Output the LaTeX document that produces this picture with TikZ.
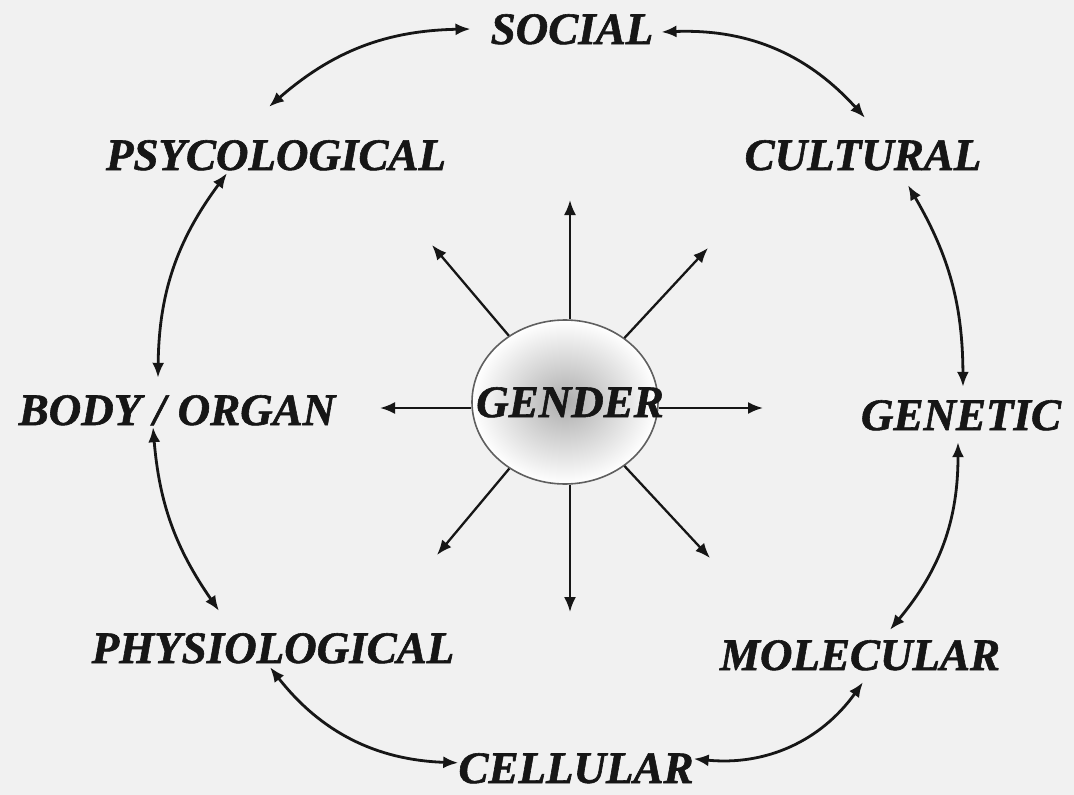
\documentclass[tikz,border=0pt]{standalone}
\usepackage{fontspec}
\setmainfont{Liberation Serif}[BoldItalicFeatures={FakeBold=1.3}]
\usetikzlibrary{arrows.meta,calc,shapes.geometric}
\definecolor{bgc}{RGB}{241,241,241}
\definecolor{ink}{RGB}{22,22,22}
\definecolor{rim}{RGB}{95,95,95}
\begin{document}
\begin{tikzpicture}[x=1pt,y=1pt,
  lbl/.style={font=\fontsize{45}{50}\selectfont\bfseries\itshape, inner sep=0pt,
              text height=30pt, text depth=0pt, anchor=base, text=ink},
  link/.style={line width=2.8pt, draw=ink,
               {Latex[length=15pt,width=12pt]}-{Latex[length=15pt,width=12pt]}},
  spoke/.style={line width=2.3pt, draw=ink, -{Latex[length=15pt,width=12pt]}}]
\fill[bgc] (0,0) rectangle (1074,-795);
\useasboundingbox (0,0) rectangle (1074,-795);

% outer labels
\node[lbl] (social) at (572,-44)  {SOCIAL};
\node[lbl] (psy)    at (276,-170) {PSYCOLOGICAL};
\node[lbl] (cult)   at (863,-170) {CULTURAL};
\node[lbl] (body)   at (177,-425) {BODY\kern12pt/\kern12pt ORGAN};
\node[lbl] (gen)    at (961,-430) {GENETIC};
\node[lbl] (phys)   at (273,-663) {PHYSIOLOGICAL};
\node[lbl] (mol)    at (860,-670) {MOLECULAR};
\node[lbl] (cell)   at (576,-783) {CELLULAR};

% centre
\node[ellipse, minimum width=186pt, minimum height=164pt, inner sep=0pt,
      draw=rim, line width=1.6pt, inner color=black!32, outer color=white]
      (g) at (565,-402) {};

\coordinate (eN)  at (570,-200);
\coordinate (eNE) at (708,-248);
\coordinate (eE)  at (763,-408);
\coordinate (eSE) at (710,-558);
\coordinate (eS)  at (570,-612);
\coordinate (eSW) at (437,-555);
\coordinate (eW)  at (380,-408);
\coordinate (eNW) at (432,-245);

\draw[spoke] (g.north -| eN) -- (eN);
\draw[spoke] (g) -- (eNE);
\draw[spoke] (g.east |- eE) -- (eE);
\draw[spoke] (g) -- (eSE);
\draw[spoke] (g.south -| eS) -- (eS);
\draw[spoke] (g) -- (eSW);
\draw[spoke] (g.west |- eW) -- (eW);
\draw[spoke] (g) -- (eNW);

\node[lbl] (gt) at (570,-417) {GENDER};

% ring of double arrows
\draw[link] ($(psy.north)+(-7,33)$)     to[bend left=20] ($(social.west)+(-20,0)$);
\draw[link] ($(social.east)+(8,-3)$)    to[bend left=25] ($(cult.north)+(2,22)$);
\draw[link] ($(cult.south)+(45,-15)$)   to[bend left=15] ($(gen.north)+(2,13)$);
\draw[link] ($(gen.south)+(-3,-12)$)    to[bend left=20] ($(mol.north)+(30,10)$);
\draw[link] ($(mol.south)+(3,-12)$)     to[bend left=30] ($(cell.north east)+(0,-6)$);
\draw[link] ($(cell.north west)+(0,-10)$) to[bend left=25] ($(phys.south)+(-3,-4)$);
\draw[link] ($(phys.north)+(-54,22)$)   to[bend left=15] ($(body.south)+(-24,-2)$);
\draw[link] ($(body.north)+(-19,17)$)   to[bend left=18] ($(psy.south)+(-49,-3)$);
\end{tikzpicture}
\end{document}
